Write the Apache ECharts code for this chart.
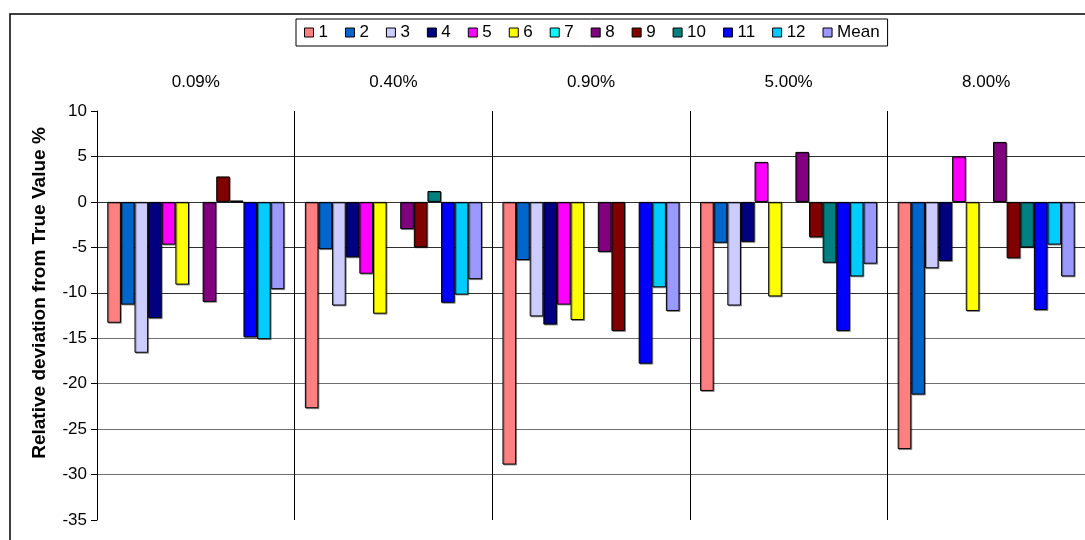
<!DOCTYPE html>
<html>
<head>
<meta charset="utf-8">
<script src="https://cdn.jsdelivr.net/npm/echarts@6/dist/echarts.min.js"></script>
<style>
html,body{margin:0;padding:0;background:#fff;}
#chart{width:1085px;height:540px;}
</style>
</head>
<body>
<div id="chart"></div>
<script>
var categories = ['0.09%', '0.40%', '0.90%', '5.00%', '8.00%'];
var seriesNames = ['1','2','3','4','5','6','7','8','9','10','11','12','Mean'];
var s1 = [-13.3, -22.7, -28.9, -20.8, -27.2];
var s2 = [-11.3, -5.2, -6.4, -4.5, -21.2];
var s3 = [-16.6, -11.4, -12.6, -11.4, -7.3];
var s4 = [-12.8, -6.1, -13.5, -4.4, -6.5];
var s5 = [-4.7, -7.9, -11.3, 4.4, 5.0];
var s6 = [-9.1, -12.3, -13.0, -10.4, -12.0];
var s7 = [null, null, null, null, null];
var s8 = [-11.0, -3.0, -5.5, 5.5, 6.6];
var s9 = [2.8, -5.0, -14.2, -3.9, -6.2];
var s10 = [0.15, 1.2, null, -6.7, -5.0];
var s11 = [-14.9, -11.1, -17.8, -14.2, -11.9];
var s12 = [-15.1, -10.2, -9.4, -8.2, -4.7];
var sMean = [-9.6, -8.5, -12.0, -6.8, -8.2];
var yTicks = [-35, -30, -25, -20, -15, -10, -5, 0, 5, 10];
var yTitle = 'Relative deviation from True Value %';

var allData = [s1, s2, s3, s4, s5, s6, s7, s8, s9, s10, s11, s12, sMean];
var colors = ['#FF8080', '#0066CC', '#CCCCFF', '#000080', '#FF00FF', '#FFFF00', '#00FFFF',
              '#800080', '#800000', '#008080', '#0000FF', '#00CCFF', '#9999FF'];

var font = 'Arial, "Liberation Sans", sans-serif';

var series = seriesNames.map(function (n, i) {
  return {
    name: n,
    type: 'bar',
    data: allData[i],
    barGap: '0%',
    barCategoryGap: '10.4%',
    itemStyle: {
      color: colors[i],
      borderColor: '#000',
      borderWidth: 1,
      shadowColor: 'rgba(0,0,0,0.35)',
      shadowOffsetX: 1,
      shadowOffsetY: 1
    },
    emphasis: { disabled: true }
  };
});

var chart = echarts.init(document.getElementById('chart'), null, { renderer: 'canvas' });
chart.setOption({
  animation: false,
  backgroundColor: '#fff',
  textStyle: { fontFamily: font },
  graphic: [{
    type: 'rect',
    shape: { x: 10, y: 14, width: 1090, height: 560 },
    style: { fill: 'none', stroke: '#000', lineWidth: 1.5 },
    z: -1
  }, {
    type: 'text',
    x: 40,
    y: 293,
    rotation: Math.PI / 2,
    style: {
      text: yTitle,
      fontSize: 19,
      fontWeight: 'bold',
      fontFamily: font,
      fill: '#000',
      textAlign: 'center',
      textVerticalAlign: 'middle'
    }
  }],
  legend: {
    data: seriesNames,
    left: 296,
    top: 19,
    padding: [5, 8, 5, 8],
    itemGap: 17,
    itemWidth: 9,
    itemHeight: 9,
    icon: 'rect',
    borderColor: '#000',
    borderWidth: 1,
    backgroundColor: '#fff',
    itemStyle: { borderColor: '#000', borderWidth: 1 },
    textStyle: { fontSize: 17, color: '#000', fontFamily: font }
  },
  grid: { left: 97, top: 111, width: 991, height: 409, containLabel: false },
  xAxis: {
    type: 'category',
    position: 'top',
    data: categories,
    axisLine: { show: false },
    axisTick: { show: false },
    axisLabel: { fontSize: 17, color: '#000', margin: 20, fontFamily: font },
    splitLine: { show: true, lineStyle: { color: '#000', width: 1 } }
  },
  yAxis: {
    type: 'value',
    min: -35,
    max: 10,
    interval: 5,
    axisLine: { show: true, lineStyle: { color: '#000', width: 1 } },
    axisTick: { show: true, inside: false, length: 6, lineStyle: { color: '#000' } },
    axisLabel: {
      fontSize: 17, color: '#000', margin: 10, fontFamily: font,
      formatter: function (v) { return yTicks.indexOf(v) >= 0 ? String(v) : ''; }
    },
    splitLine: {
      show: true,
      lineStyle: {
        color: ['rgba(0,0,0,0)', '#707070', '#707070', '#707070', '#707070', '#303030', '#303030', '#303030', '#303030', 'rgba(0,0,0,0)'],
        width: 1
      }
    }
  },
  series: series
});
</script>
</body>
</html>
